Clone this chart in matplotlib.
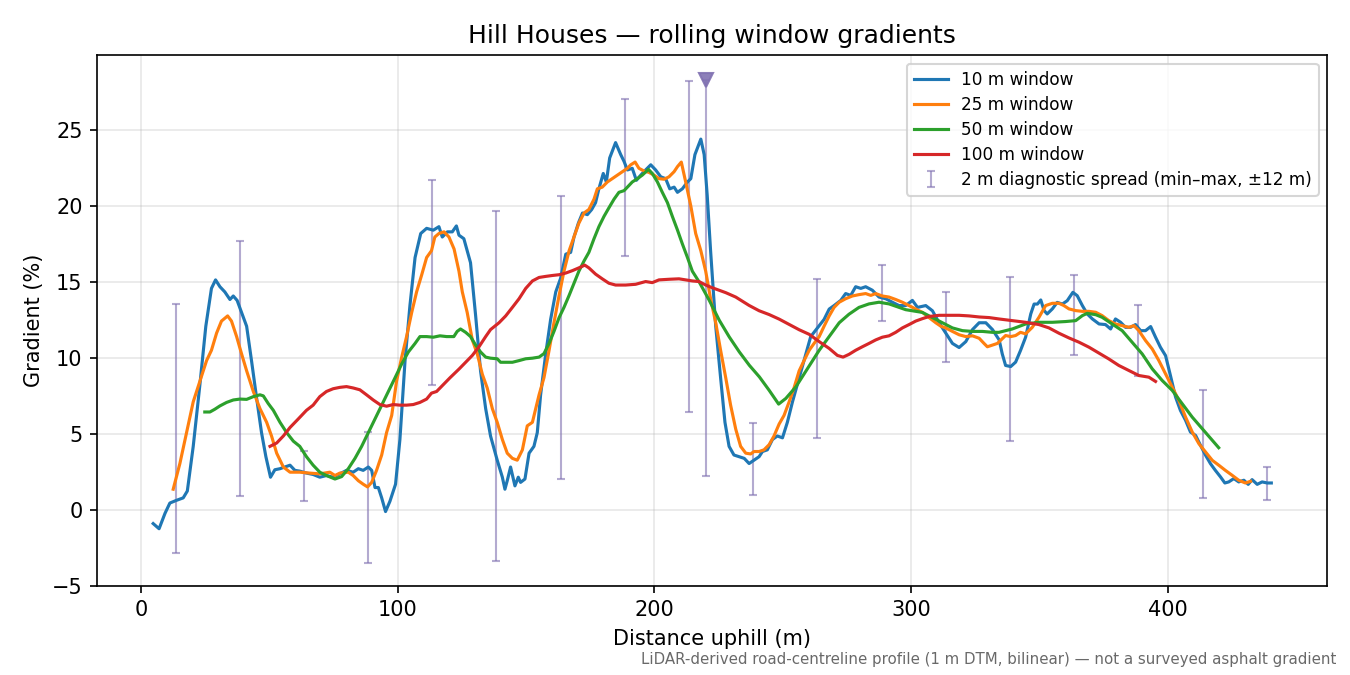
"""Hill Houses rolling-window gradient profile, redrawn from the README figure."""

import matplotlib
matplotlib.use("Agg")
import matplotlib.pyplot as plt

# distance uphill (m) and gradient (%) per rolling window
W10_X = [4.8, 7.1, 9.4, 11.3, 13.9, 16.5, 18.1, 20.4, 23.0, 25.3, 27.5, 29.1, 30.8, 32.7, 34.7, 36.0,
         37.5, 39.2, 41.2, 43.1, 45.1, 47.0, 48.7, 50.5, 52.2, 54.2, 56.1, 58.1, 60.0, 61.9, 64.5, 67.1,
         69.7, 72.3, 74.9, 77.5, 80.1, 82.7, 84.7, 86.6, 88.6, 89.9, 91.2, 92.5, 93.8, 95.3, 97.0, 99.2,
         100.9, 102.9, 104.8, 106.8, 109.0, 111.3, 113.9,
         116.1, 117.4, 119.4, 121.3, 122.9, 123.9, 125.8, 128.4, 130.4, 132.3, 134.3, 136.2, 138.8, 140.8,
         141.8, 142.7, 144.0, 145.7, 147.0, 147.9, 149.6, 151.2, 153.1, 154.4, 155.7, 157.7, 159.6, 161.6,
         163.5, 165.5, 167.4, 168.7, 170.4, 172.0, 173.9, 175.6, 177.1, 178.4, 180.1, 181.3, 182.6, 184.9,
         186.9, 188.2, 189.5, 191.4, 193.0, 194.7, 196.6, 198.6, 200.5, 202.5, 204.4, 206.0, 207.7, 209.0,
         210.9, 212.9, 214.2, 215.8, 218.1, 219.4, 220.6, 221.9, 223.9, 225.8, 227.5, 229.1, 231.0,
         233.0, 235.0, 236.9, 238.8, 240.8, 242.1, 244.0, 246.0, 247.9, 249.9, 251.8, 253.8, 256.4, 259.0,
         260.9, 263.5, 266.1, 268.1, 270.0, 272.6, 274.5, 276.5, 278.4, 280.4, 282.3, 284.9, 287.5, 290.1,
         292.7, 295.3, 297.9, 300.5, 302.5, 305.7, 308.3, 310.9, 313.5, 316.1, 318.7, 321.3, 323.9, 326.5,
         329.1, 331.7, 334.3,
         335.5, 336.8, 338.8, 340.7, 342.6, 344.6, 346.6, 347.9, 349.2, 350.5, 351.8, 353.0, 355.0, 356.9,
         358.9, 360.8, 363.0, 364.7, 366.7, 368.6, 370.6, 373.2, 375.7, 377.7, 379.6, 381.6, 383.5, 385.5,
         387.4, 389.4, 391.3, 393.3, 395.2, 397.1, 399.1, 401.0, 403.0, 404.9, 406.9, 408.8, 410.8, 412.7,
         414.7, 416.6, 418.5, 420.5, 422.2, 423.7, 425.7, 427.6, 429.6, 431.3, 432.8, 434.8, 436.7, 438.7,
         440.3]
W10_Y = [-0.9, -1.24, -0.23, 0.45, 0.63, 0.79, 1.24, 4.18, 8.24, 12.08, 14.57, 15.13, 14.68, 14.34, 13.84,
         14.07, 13.78, 12.99, 12.08, 9.82, 7.34, 5.08, 3.5, 2.15, 2.64, 2.71, 2.82, 2.94, 2.6, 2.55, 2.42,
         2.33, 2.15, 2.26, 2.15, 2.37, 2.6, 2.48, 2.71, 2.6, 2.82, 2.6, 1.47, 1.47, 0.79, -0.11, 0.56, 1.69,
         4.63, 9.82, 13.44, 16.6, 18.18, 18.52, 18.4,
         18.63, 17.95, 18.29, 18.29, 18.68, 18.07, 17.84, 16.26, 12.76, 9.15, 6.66, 4.86, 3.27, 2.15, 1.36,
         1.92, 2.82, 1.58, 2.15, 1.81, 2.03, 3.73, 4.18, 5.08, 7.57, 10.28, 12.53, 14.34, 15.24, 16.82,
         16.94, 17.95, 18.86, 19.53, 19.42, 19.76, 20.21, 21.12, 22.13, 21.57, 23.15, 24.16, 23.37, 22.92,
         22.36, 22.47, 21.68, 22.02, 22.36, 22.7, 22.36, 21.91, 21.79, 21.12, 21.23, 20.89, 21.12, 21.57,
         21.79, 23.37, 24.39, 23.37, 20.66, 17.05, 12.08, 8.69, 5.76, 4.18, 3.61,
         3.5, 3.39, 3.05, 3.27, 3.5, 3.84, 3.95, 4.63, 4.86, 4.74, 5.76, 7.11, 8.69, 10.28, 11.4, 11.97,
         12.53, 13.21, 13.44, 13.78, 14.23, 14.11, 14.68, 14.57, 14.68, 14.45, 14.0, 13.89, 13.66, 13.44,
         13.44, 13.78, 13.32, 13.44, 13.1, 12.31, 11.63, 10.95, 10.68, 11.07, 11.86, 12.31, 12.31, 11.86,
         11.18,
         10.26, 9.5, 9.43, 9.72, 10.48, 11.36, 12.89, 13.54, 13.54, 13.81, 13.11, 12.89, 13.22, 13.65,
         13.54, 13.76, 14.31, 14.09, 13.44, 12.89, 12.56, 12.23, 12.19, 11.9, 12.56, 12.34, 12.01, 12.01,
         12.19, 11.79, 11.79, 12.06, 11.36, 10.7, 10.15, 8.84, 7.42, 6.54, 5.89, 5.12, 4.9, 4.25, 3.59,
         3.04, 2.6, 2.17, 1.77, 1.84, 2.06, 1.84, 1.95, 1.68, 1.99, 1.68, 1.84, 1.77, 1.77]

W25_X = [12.6, 15.2, 17.8, 20.4, 23.0, 25.6, 27.5, 29.5, 31.4, 33.8, 35.3, 37.3, 39.2, 41.2, 43.8, 46.4,
         49.0, 50.9, 52.9, 55.5, 58.1, 61.9, 65.8, 69.7, 73.6, 75.6, 77.5, 80.8, 82.7, 84.7, 86.6, 88.3,
         89.9, 91.8, 93.8, 95.7, 97.7, 99.6, 101.6, 103.5, 105.5, 107.4, 109.4, 111.3, 113.2, 114.5,
         116.1, 118.1, 120.0, 122.0, 123.9, 125.2, 127.1, 129.1, 131.0, 133.0, 134.9, 136.9, 138.8, 140.8,
         142.7, 144.7, 146.6, 148.6, 150.5, 152.5, 153.8, 155.1, 157.0, 159.0, 160.9, 162.9, 164.8, 166.8,
         168.7, 170.6, 172.6, 174.5, 176.5, 177.8, 179.7, 181.7, 183.6, 185.6, 187.5, 189.5, 190.8, 192.5,
         194.0, 196.0, 197.9, 199.9, 201.8, 203.8, 205.7, 207.7, 209.0, 210.5, 212.2, 214.2, 216.1, 218.1,
         220.0, 221.9, 223.9, 225.8, 227.8, 229.7, 231.7, 233.6, 235.6,
         237.5, 238.8, 240.8, 242.7, 244.7, 246.6, 248.6, 250.5, 252.5, 254.4, 256.4, 258.3, 260.3, 262.2,
         264.2, 266.1, 268.1, 270.0, 272.0, 274.5, 277.1, 279.7, 282.3, 284.3, 286.2, 288.8, 291.4, 294.0,
         296.6, 299.2, 301.8, 304.4, 307.0, 309.6, 311.6, 313.5, 316.1, 318.7, 321.3, 323.9, 326.5, 328.4,
         329.7, 331.7, 333.6,
         336.8, 338.8, 340.7, 342.6, 344.6, 347.2, 349.8, 352.4, 355.0, 357.6, 359.5, 361.5, 364.1, 366.7,
         369.3, 371.9, 374.4, 377.0, 379.6, 382.2, 384.8, 386.8, 388.7, 391.3, 393.9, 396.5, 399.1, 401.7,
         404.3, 406.9, 409.5, 412.1, 414.7, 417.3, 419.9, 422.4, 425.0, 427.6, 430.2, 432.2]
W25_Y = [1.36, 3.05, 5.08, 7.11, 8.47, 9.82, 10.5, 11.63, 12.42, 12.76, 12.42, 11.4, 10.28, 9.15, 7.79, 6.66,
         5.76, 4.86, 3.73, 2.82, 2.48, 2.48, 2.42, 2.37, 2.48, 2.26, 2.42, 2.48, 2.26, 1.92, 1.69, 1.51,
         1.81, 2.6, 3.61, 5.08, 6.21, 8.47, 10.05, 11.4, 12.99, 14.34, 15.47, 16.6, 17.05, 17.95,
         18.18, 18.29, 17.95, 17.16, 15.7, 14.34, 12.99, 11.18, 10.28, 8.92, 8.02, 6.66, 5.76, 4.63, 3.73,
         3.39, 3.27, 3.95, 5.53, 5.76, 6.66, 7.57, 8.69, 10.5, 12.31, 14.11, 15.7, 17.05, 17.95, 18.86,
         19.53, 19.76, 20.44, 21.12, 21.23, 21.57, 21.79, 22.02, 22.25, 22.47, 22.7, 22.88, 22.47, 22.29,
         22.2, 22.02, 21.79, 21.75, 21.91, 22.25, 22.58, 22.88, 21.57, 19.99, 18.18, 17.05, 15.7, 13.89,
         12.31, 10.5, 8.69, 6.89, 5.31, 4.18, 3.73,
         3.68, 3.84, 3.84, 3.95, 4.29, 4.86, 5.65, 6.21, 7.11, 8.02, 9.15, 9.82, 10.5, 10.95, 11.4, 12.08,
         12.76, 13.32, 13.66, 13.89, 14.07, 14.16, 14.23, 14.11, 14.23, 14.07, 14.0, 13.84, 13.66, 13.44,
         13.21, 12.99, 12.65, 12.31, 12.08, 11.97, 11.74, 11.52, 11.4, 11.45, 11.29, 10.95, 10.73, 10.84,
         10.95,
         11.47, 11.4, 11.47, 11.68, 11.58, 12.01, 12.67, 13.44, 13.59, 13.59, 13.44, 13.22, 13.11, 13.06,
         13.06, 13.0, 12.78, 12.45, 12.23, 12.12, 12.01, 12.12, 11.79, 11.14, 10.59, 9.82, 8.95, 8.07, 7.2,
         6.1, 5.12, 4.35, 3.81, 3.26, 2.93, 2.6, 2.28, 1.95, 1.77, 1.88]

W50_X = [24.9, 26.9, 28.8, 30.8, 33.4, 36.0, 38.6, 41.2, 43.8, 46.4, 47.7, 49.6, 51.6, 54.2, 56.8, 59.4,
         61.9, 64.5, 67.1, 69.7, 72.3, 75.6, 78.2, 80.8, 83.4, 86.0, 88.6, 91.2, 93.8, 96.4, 99.0, 101.6,
         104.2, 106.8, 108.7, 111.3, 113.9, 116.5, 119.1,
         121.9, 123.2, 124.5, 126.5, 128.4, 130.4, 132.3, 134.3, 136.2, 138.8, 140.1, 142.1, 144.7, 147.3,
         149.9, 152.5, 155.1, 157.0, 159.0, 160.9, 162.9, 164.8, 166.8, 168.7, 170.6, 172.6, 174.5, 176.5,
         178.4, 180.4, 182.3, 184.3, 186.2, 188.2, 190.1, 191.4, 193.4, 195.3, 197.7, 199.2, 201.2, 203.1,
         205.1, 207.0, 209.0, 210.9, 212.9, 214.8,
         217.5, 221.4, 225.3, 229.2, 233.1, 237.0, 240.9, 244.7, 248.4, 251.2, 255.1,
         264.2, 268.1, 272.0, 275.8, 279.7, 283.6, 287.5, 291.4, 295.3, 297.9, 300.5, 304.4, 308.3, 312.2,
         316.1, 320.0, 323.9, 327.8, 331.7,
         334.2, 339.4, 344.6, 349.8, 355.0, 360.2, 364.1, 366.7, 368.6, 371.9, 374.4, 378.3, 382.2, 386.1,
         390.0, 393.9, 397.8, 401.7, 405.6, 409.5, 413.4, 417.3, 419.8]
W50_Y = [6.44, 6.44, 6.62, 6.84, 7.07, 7.23, 7.29, 7.27, 7.45, 7.57, 7.5, 7.0, 6.55, 5.76, 5.08, 4.52,
         4.18, 3.5, 2.94, 2.48, 2.26, 2.03, 2.19, 2.71, 3.39, 4.18, 5.08, 5.98, 6.89, 7.79, 8.69, 9.6,
         10.39, 10.95, 11.4, 11.4, 11.36, 11.45, 11.4,
         11.4, 11.74, 11.9, 11.68, 11.4, 10.84, 10.39, 10.05, 9.98, 9.94, 9.71, 9.71, 9.71, 9.82, 9.94,
         9.98, 10.05, 10.28, 10.95, 11.74, 12.65, 13.32, 14.11, 14.91, 15.7, 16.37, 16.94, 17.84, 18.63,
         19.31, 19.87, 20.44, 20.89, 21.0, 21.34, 21.57, 21.79, 22.02, 22.4, 22.13, 21.57, 20.89, 20.21,
         19.31, 18.41, 17.5, 16.6, 15.7,
         14.98, 13.78, 12.47, 11.37, 10.39, 9.51, 8.75, 7.87, 6.96, 7.33, 8.09,
         10.5, 11.4, 12.31, 12.87, 13.32, 13.55, 13.66, 13.55, 13.32, 13.17, 13.1, 12.99, 12.65, 12.31,
         11.97, 11.79, 11.74, 11.74, 11.68,
         11.68, 11.9, 12.23, 12.34, 12.34, 12.39, 12.45, 12.78, 12.93, 12.84, 12.67, 12.23, 11.79, 11.03,
         10.26, 9.28, 8.51, 7.86, 6.98, 6.1, 5.34, 4.57, 4.09]

W100_X = [50.3, 52.9, 55.5, 58.1, 61.3, 64.5, 67.1, 69.7, 72.3, 74.9, 77.5, 80.1, 82.7, 85.3, 87.9, 90.5,
          93.1, 95.7, 98.3, 100.9, 103.5, 106.1, 108.7, 111.3, 113.2, 115.2, 117.8, 120.4,
          123.9, 126.5, 129.1, 131.7, 134.3, 136.2, 139.5, 142.1, 144.7, 147.3, 149.9, 152.5, 155.1, 157.7,
          160.3, 162.9, 165.5, 168.1, 170.6, 172.9, 174.5, 177.1, 179.7, 182.3, 184.9, 188.8, 192.7, 196.6,
          199.2, 201.8, 205.7, 209.6, 212.2, 214.8, 217.4, 220.0, 222.6, 225.2, 227.8, 231.7,
          236.9, 240.8, 244.7, 248.6, 252.5, 256.4, 260.3, 264.2, 268.1, 271.3, 273.5, 275.8, 278.4, 281.0,
          283.6, 286.2, 288.8, 291.4, 294.0, 296.6, 299.2, 301.8, 304.4, 307.0, 310.9, 314.8, 318.7, 322.6,
          326.5, 330.4,
          334.2, 339.4, 344.6, 349.8, 353.7, 357.6, 361.5, 365.4, 369.3, 373.2, 377.0, 380.9, 384.8, 388.7,
          392.6, 395.2]
W100_Y = [4.18, 4.4, 4.86, 5.42, 5.98, 6.55, 6.89, 7.45, 7.79, 7.97, 8.06, 8.11, 8.02, 7.9, 7.57, 7.23,
          6.93, 6.82, 6.93, 6.89, 6.89, 6.93, 7.07, 7.29, 7.68, 7.79, 8.24, 8.69,
          9.26, 9.71, 10.16, 10.73, 11.4, 11.86, 12.31, 12.76, 13.32, 13.89, 14.57, 15.06, 15.29, 15.36,
          15.42, 15.47, 15.58, 15.74, 15.92, 16.1, 15.92, 15.51, 15.2, 14.91, 14.79, 14.79, 14.84, 15.02,
          14.95, 15.13, 15.17, 15.2, 15.13, 15.06, 15.02, 14.79, 14.61, 14.45, 14.29, 14.0,
          13.45, 13.1, 12.85, 12.55, 12.2, 11.85, 11.55, 11.07, 10.62, 10.16, 10.05, 10.23, 10.5, 10.73,
          10.95, 11.18, 11.36, 11.45, 11.68, 11.97, 12.19, 12.42, 12.58, 12.72, 12.8, 12.8, 12.8, 12.76,
          12.69, 12.65,
          12.56, 12.45, 12.34, 12.19, 11.97, 11.62, 11.31, 11.03, 10.7, 10.31, 9.93, 9.5, 9.17, 8.84,
          8.73, 8.45]

# 2 m diagnostic spread (min / max within +-12 m) at sample stations
SPREAD_X = [13.5, 38.5, 63.5, 88.5, 113.5, 138.5, 163.5, 188.5, 213.5, 220.0, 238.5, 263.5, 288.5,
            313.5, 338.5, 363.5, 388.5, 413.5, 438.5]
SPREAD_LO = [-2.82, 0.9, 0.61, -3.5, 8.2, -3.34, 2.03, 16.73, 6.44, 2.21, 0.99, 4.7, 12.4,
             9.71, 4.54, 10.16, 8.8, 0.79, 0.66]
SPREAD_HI = [13.55, 17.71, 3.88, 5.13, 21.7, 19.65, 20.64, 27.03, 28.23, 28.3, 5.71, 15.2, 16.12,
             14.34, 15.35, 15.46, 13.5, 7.86, 2.8]

# station whose max runs off the top of the plot: flagged with a triangle
OFFSCALE_X = 220.0
OFFSCALE_Y = 28.3

SERIES = [
    ("10 m window", W10_X, W10_Y, "#1f77b4"),
    ("25 m window", W25_X, W25_Y, "#ff7f0e"),
    ("50 m window", W50_X, W50_Y, "#2ca02c"),
    ("100 m window", W100_X, W100_Y, "#d62728"),
]
SPREAD_COLOR = "#8172b2"


def main():
    fig, ax = plt.subplots(figsize=(9, 4.5), dpi=150)
    fig.subplots_adjust(left=0.072, right=0.983, top=0.918, bottom=0.132)

    for label, xs, ys, color in SERIES:
        ax.plot(xs, ys, color=color, linewidth=1.5, label=label)

    mids = [(lo + hi) / 2 for lo, hi in zip(SPREAD_LO, SPREAD_HI)]
    yerr = [[m - lo for m, lo in zip(mids, SPREAD_LO)],
            [hi - m for m, hi in zip(mids, SPREAD_HI)]]
    ax.errorbar(SPREAD_X, mids, yerr=yerr, fmt="none", ecolor=SPREAD_COLOR, alpha=0.6,
                elinewidth=1.0, capsize=2, zorder=1.8,
                label="2 m diagnostic spread (min\u2013max, \u00b112 m)")
    ax.plot([OFFSCALE_X], [OFFSCALE_Y], marker="v", markersize=6.5, color=SPREAD_COLOR,
            alpha=0.9, linestyle="none", zorder=3)

    ax.set_xlim(-17, 462)
    ax.set_ylim(-5, 29.9)
    ax.grid(True, alpha=0.3)
    ax.set_xlabel("Distance uphill (m)")
    ax.set_ylabel("Gradient (%)")
    ax.set_title("Hill Houses \u2014 rolling window gradients", fontsize=12)
    ax.legend(loc="upper right", fontsize=8.1, labelspacing=0.42)

    fig.text(0.99, 0.012,
             "LiDAR-derived road-centreline profile (1 m DTM, bilinear) \u2014 not a surveyed asphalt gradient",
             ha="right", va="bottom", fontsize=7.2, color="dimgray")

    fig.savefig("out.png", dpi=150)
    plt.close(fig)


if __name__ == "__main__":
    main()
